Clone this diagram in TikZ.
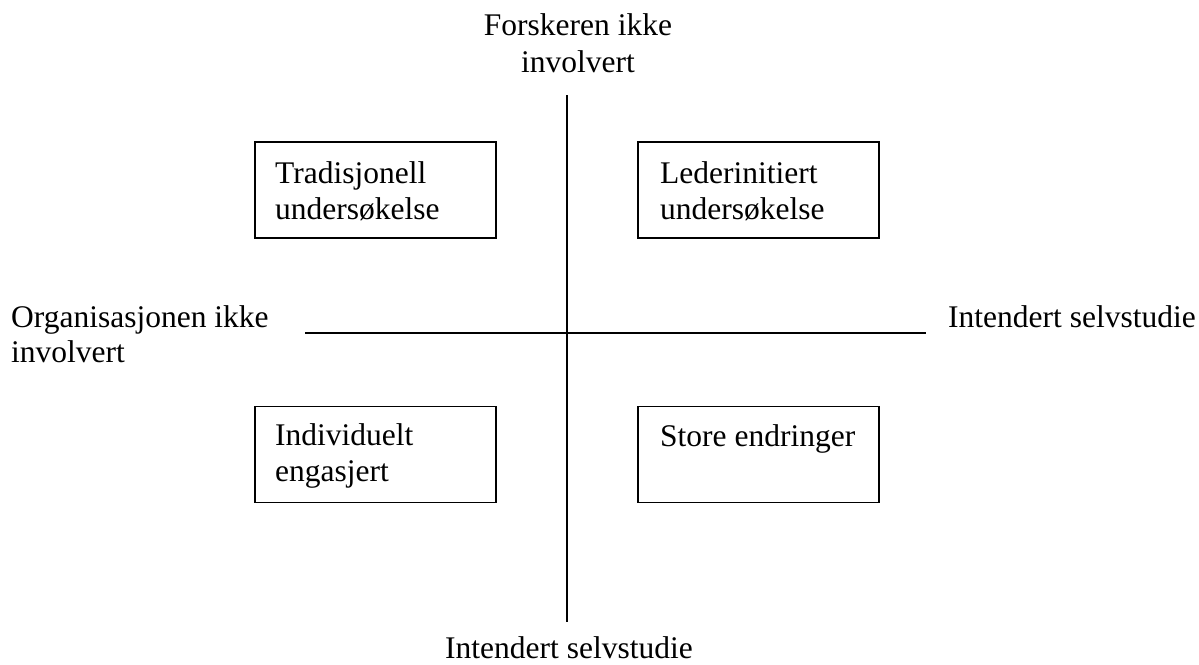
\documentclass[tikz,border=0pt]{standalone}
\usepackage{fontspec}
\setmainfont{Liberation Serif}
\begin{document}
\begin{tikzpicture}[x=1pt,y=-1pt,
  quadbox/.style={draw,line width=1.3pt,minimum width=241pt,minimum height=96pt,inner sep=0pt},
  txt/.style={inner sep=0pt,anchor=base west,font=\fontsize{31.5}{36}\selectfont},
  ctxt/.style={inner sep=0pt,anchor=base,font=\fontsize{31.5}{36}\selectfont},
  axis/.style={line width=1.3pt}]
\useasboundingbox (0,0) rectangle (1199,664);
% axes
\coordinate (vtop) at (567,95);
\coordinate (vbot) at (567,622);
\coordinate (hleft) at (305,333);
\coordinate (hright) at (926,333);
\draw[axis] (vtop) -- (vbot);
\draw[axis] (hleft) -- (hright);
% quadrant boxes
\node[quadbox] (b1) at (375.5,190) {};
\node[quadbox] (b2) at (758.5,190) {};
\node[quadbox] (b3) at (375.5,454.5) {};
\node[quadbox] (b4) at (758.5,454.5) {};
% box texts
\node[txt] (t1a) at (275,183) {Tradisjonell};
\node[txt] (t1b) at (275,219) {undersøkelse};
\node[txt] (t2a) at (660,183) {Lederinitiert};
\node[txt] (t2b) at (660,219) {undersøkelse};
\node[txt] (t3a) at (275,445) {Individuelt};
\node[txt] (t3b) at (275,481) {engasjert};
\node[txt] (t4a) at (660,446) {Store endringer};
% axis labels
\node[ctxt] (topa) at (578,35) {Forskeren ikke};
\node[ctxt] (topb) at (578,72) {involvert};
\node[txt] (lefta) at (11,327) {Organisasjonen ikke};
\node[txt] (leftb) at (11,362) {involvert};
\node[txt] (right) at (948,327) {Intendert selvstudie};
\node[txt] (bottom) at (445,658) {Intendert selvstudie};
\end{tikzpicture}
\end{document}
